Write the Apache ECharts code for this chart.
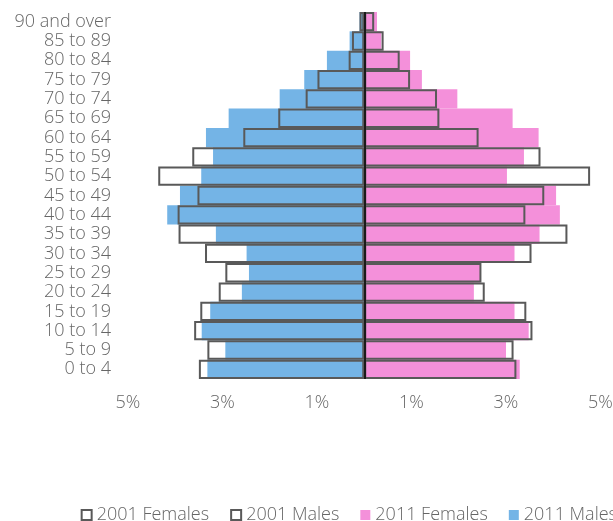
<!DOCTYPE html>
<html>
<head>
<meta charset="utf-8">
<script src="https://cdn.jsdelivr.net/npm/echarts@6/dist/echarts.min.js"></script>
<style>
  html, body { margin: 0; padding: 0; background: #fff; }
  #chart { width: 613px; height: 521px; }
</style>
</head>
<body>
<div id="chart"></div>
<script>
// age bands, bottom to top
var ageGroups = ['0 to 4','5 to 9','10 to 14','15 to 19','20 to 24','25 to 29','30 to 34',
  '35 to 39','40 to 44','45 to 49','50 to 54','55 to 59','60 to 64','65 to 69',
  '70 to 74','75 to 79','80 to 84','85 to 89','90 and over'];

// share of population, %
var males2011 = [3.32,2.94,3.44,3.26,2.59,2.44,2.49,3.14,4.17,3.90,3.45,3.20,3.35,2.87,1.79,1.27,0.79,0.31,0.10];
var males2001 = [3.50,3.32,3.60,3.47,3.08,2.94,3.37,3.93,3.95,3.53,4.36,3.64,2.56,1.82,1.24,0.99,0.33,0.26,0.10];
var females2011 = [3.29,3.00,3.48,3.18,2.32,2.46,3.18,3.71,4.14,4.06,3.02,3.38,3.69,3.14,1.97,1.22,0.97,0.36,0.27];
var females2001 = [3.22,3.16,3.56,3.43,2.55,2.48,3.54,4.30,3.41,3.81,4.78,3.73,2.42,1.59,1.54,0.97,0.75,0.41,0.21];

var legendNames = ['2001 Females','2001 Males','2011 Females','2011 Males'];

var txt = '#666666';
var font = '"Open Sans", "Noto Sans", sans-serif';

var chart = echarts.init(document.getElementById('chart'));

function outline(name, data){
  return {
    name: name, type: 'bar', stack: 'y2001', z: 3,
    barGap: '-100%', barCategoryGap: '0%',
    itemStyle: { color: 'rgba(0,0,0,0)', borderColor: '#595959', borderWidth: 2 },
    data: data
  };
}

chart.setOption({
  animation: false,
  textStyle: { fontFamily: font },
  grid: { left: 128, right: 12.5, top: 12, bottom: 142, outerBoundsMode: 'none' },
  legend: {
    data: legendNames,
    right: -9, top: 501,
    icon: 'rect', itemWidth: 10, itemHeight: 10, itemGap: 21,
    textStyle: { color: txt, fontSize: 18, fontWeight: 300, fontFamily: font }
  },
  xAxis: {
    type: 'value', min: -5, max: 5, interval: 1,
    axisLine: { show: false }, axisTick: { show: false }, splitLine: { show: false },
    axisLabel: {
      color: txt, fontSize: 18, fontWeight: 300, margin: 15,
      formatter: function(v){ return Math.abs(v) % 2 === 1 ? Math.abs(v) + '%' : ''; }
    }
  },
  yAxis: {
    type: 'category', data: ageGroups,
    axisLine: { show: false, onZero: false }, axisTick: { show: false },
    axisLabel: { color: txt, fontSize: 18, fontWeight: 300, margin: 17, interval: 0 }
  },
  series: [
    {
      name: '2011 Males', type: 'bar', stack: 'y2011', z: 2,
      barGap: '-100%', barCategoryGap: '0%',
      itemStyle: { color: '#74B4E6' },
      data: males2011.map(function(v){ return -v; })
    },
    {
      name: '2011 Females', type: 'bar', stack: 'y2011', z: 2,
      barGap: '-100%', barCategoryGap: '0%',
      itemStyle: { color: '#F490DA' },
      data: females2011
    },
    outline('2001 Males', males2001.map(function(v){ return -v; })),
    Object.assign(outline('2001 Females', females2001), {
      markLine: {
        silent: true, symbol: ['none','none'], label: { show: false },
        lineStyle: { color: '#1a1a1a', width: 2, type: 'solid' },
        data: [{ xAxis: 0 }]
      }
    })
  ]
});
</script>
</body>
</html>
